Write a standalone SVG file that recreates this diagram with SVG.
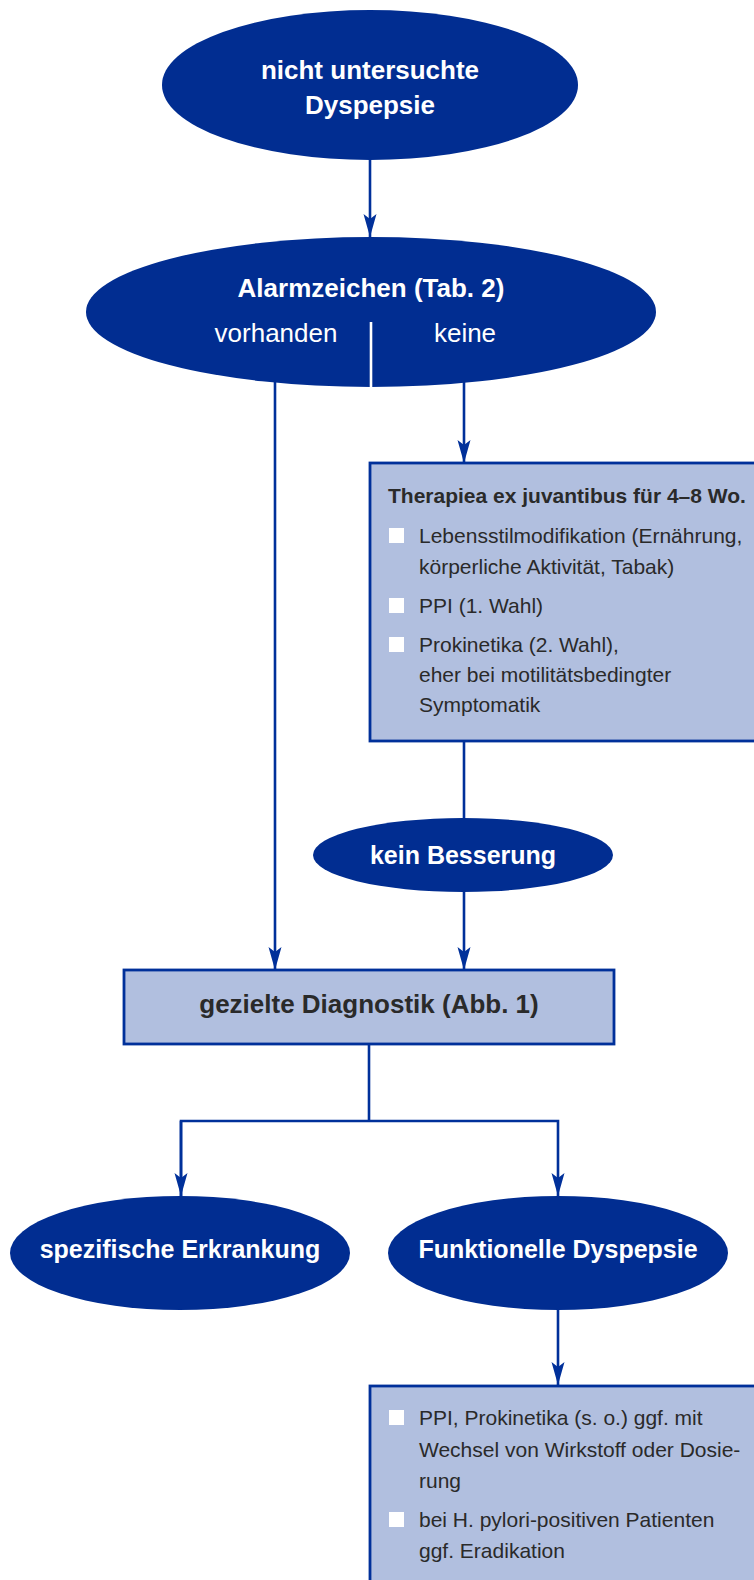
<svg xmlns="http://www.w3.org/2000/svg" width="754" height="1580" viewBox="0 0 754 1580">
<style>
.oval{fill:#012d91}
.box{fill:#b1bfdf;stroke:#00309a;stroke-width:2.8}
.ln{stroke:#00309a;stroke-width:2.6;fill:none}
.wt{fill:#ffffff;font-family:"Liberation Sans",Arial,sans-serif;font-weight:bold;text-anchor:middle}
.wr{fill:#ffffff;font-family:"Liberation Sans",Arial,sans-serif;font-size:26px;text-anchor:middle}
.dt{fill:#2a2a2a;font-family:"Liberation Sans",Arial,sans-serif;font-size:21px}
.db{fill:#2a2a2a;font-family:"Liberation Sans",Arial,sans-serif;font-weight:bold}
.sq{fill:#ffffff}
</style>
<defs>
<marker id="ah" markerUnits="userSpaceOnUse" markerWidth="24" markerHeight="14" viewBox="-24 -7 24 14" refX="0" refY="0" orient="auto">
<path d="M0,0 L-23,-6.5 L-18,0 L-23,6.5 Z" fill="#00309a"/>
</marker>
</defs>
<g id="connectors">
<line class="ln" x1="370" y1="158" x2="370" y2="237" marker-end="url(#ah)"/>
<line class="ln" x1="275" y1="380" x2="275" y2="970" marker-end="url(#ah)"/>
<line class="ln" x1="464" y1="380" x2="464" y2="463" marker-end="url(#ah)"/>
<line class="ln" x1="464" y1="741" x2="464" y2="820"/>
<line class="ln" x1="464" y1="890" x2="464" y2="970" marker-end="url(#ah)"/>
<polyline class="ln" points="369,1044 369,1121"/>
<polyline class="ln" points="181,1196 181,1121 558,1121 558,1196" marker-end="url(#ah)"/>
<line class="ln" x1="181" y1="1121" x2="181" y2="1196" marker-end="url(#ah)"/>
<line class="ln" x1="558" y1="1308" x2="558" y2="1385" marker-end="url(#ah)"/>
</g>
<g id="n1">
<ellipse class="oval" cx="370" cy="85" rx="208" ry="75"/>
<text class="wt" x="370" y="79" font-size="26">nicht untersuchte</text>
<text class="wt" x="370" y="114" font-size="26">Dyspepsie</text>
</g>
<g id="n2">
<ellipse class="oval" cx="371" cy="312" rx="285" ry="75"/>
<text class="wt" x="371" y="297" font-size="26">Alarmzeichen (Tab. 2)</text>
<text class="wr" x="276" y="342">vorhanden</text>
<text class="wr" x="465" y="342">keine</text>
<line x1="371" y1="322" x2="371" y2="387" stroke="#ffffff" stroke-width="2.6"/>
</g>
<g id="n3">
<rect class="box" x="370" y="463" width="400" height="278"/>
<text class="db" x="388" y="503" font-size="21">Therapiea ex juvantibus für 4–8 Wo.</text>
<rect class="sq" x="389" y="528" width="15" height="15"/>
<text class="dt" x="419" y="543">Lebensstilmodifikation (Ernährung,</text>
<text class="dt" x="419" y="574">körperliche Aktivität, Tabak)</text>
<rect class="sq" x="389" y="598" width="15" height="15"/>
<text class="dt" x="419" y="613">PPI (1. Wahl)</text>
<rect class="sq" x="389" y="637" width="15" height="15"/>
<text class="dt" x="419" y="652">Prokinetika (2. Wahl),</text>
<text class="dt" x="419" y="682">eher bei motilitätsbedingter</text>
<text class="dt" x="419" y="712">Symptomatik</text>
</g>
<g id="n4">
<ellipse class="oval" cx="463" cy="855" rx="150" ry="37"/>
<text class="wt" x="463" y="864" font-size="25">kein Besserung</text>
</g>
<g id="n5">
<rect class="box" x="124" y="970" width="490" height="74"/>
<text class="db" x="369" y="1013" font-size="26" text-anchor="middle">gezielte Diagnostik (Abb. 1)</text>
</g>
<g id="n6">
<ellipse class="oval" cx="180" cy="1253" rx="170" ry="57"/>
<text class="wt" x="180" y="1258" font-size="25">spezifische Erkrankung</text>
</g>
<g id="n7">
<ellipse class="oval" cx="558" cy="1253" rx="170" ry="57"/>
<text class="wt" x="558" y="1258" font-size="25">Funktionelle Dyspepsie</text>
</g>
<g id="n8">
<rect class="box" x="370" y="1386" width="400" height="220"/>
<rect class="sq" x="389" y="1410" width="15" height="15"/>
<text class="dt" x="419" y="1425">PPI, Prokinetika (s. o.) ggf. mit</text>
<text class="dt" x="419" y="1457">Wechsel von Wirkstoff oder Dosie-</text>
<text class="dt" x="419" y="1488">rung</text>
<rect class="sq" x="389" y="1512" width="15" height="15"/>
<text class="dt" x="419" y="1527">bei H. pylori-positiven Patienten</text>
<text class="dt" x="419" y="1558">ggf. Eradikation</text>
</g>
</svg>
